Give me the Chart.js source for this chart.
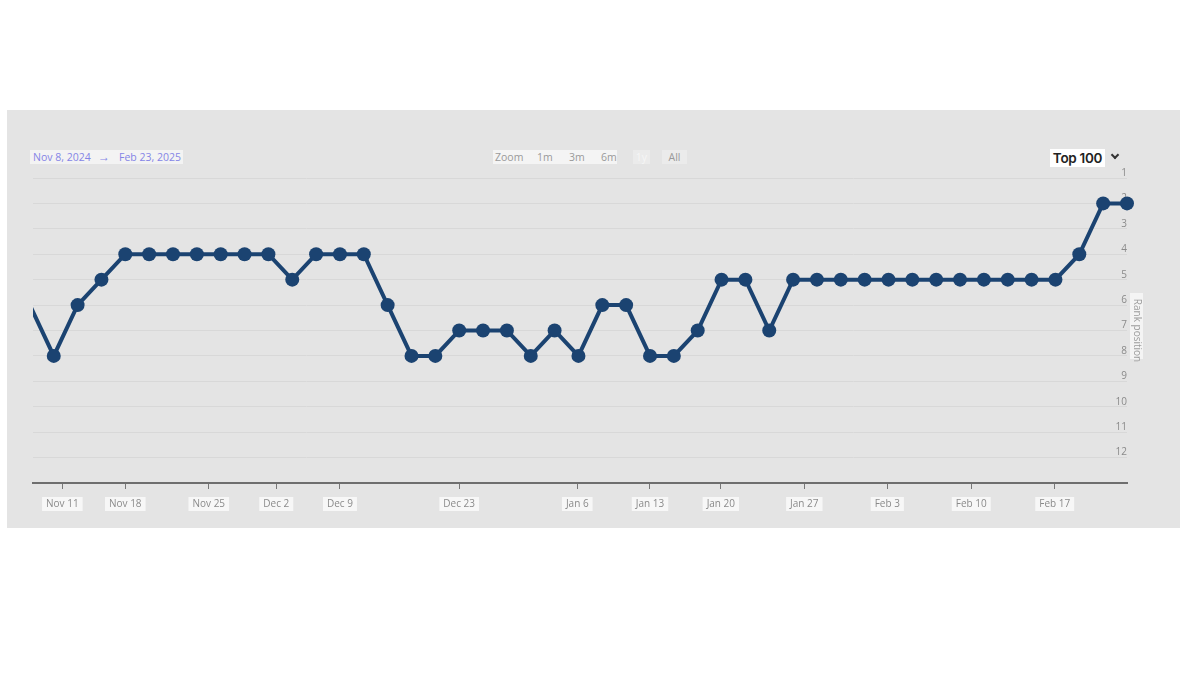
<!DOCTYPE html>
<html>
<head>
<meta charset="utf-8">
<script src="https://cdn.jsdelivr.net/npm/chart.js@4.4.1/dist/chart.umd.min.js"></script>
<style>
html,body{margin:0;padding:0;background:#fff;width:1200px;height:674px;overflow:hidden;font-family:"Open Sans",sans-serif;}
#panel{position:absolute;left:7px;top:110px;width:1173px;height:418px;background:#e4e4e4;}
#c{position:absolute;left:0;top:0;}
.t{position:absolute;white-space:nowrap;line-height:14px;height:14px;}
#range{left:30px;top:150px;width:153px;background:rgba(255,255,255,0.55);color:#8585e6;font-size:10.5px;}
#range span{position:absolute;top:0;}
.zb{top:150px;font-size:10.5px;color:#9a9a9a;}
#zstrip{position:absolute;left:493px;top:150px;width:124px;height:14px;background:rgba(255,255,255,0.6);}
#b1y{position:absolute;left:633px;top:150px;width:17px;height:14px;background:#ebebeb;color:#f6f6f6;font-size:10.5px;line-height:14px;text-align:center;}
#ball{position:absolute;left:662px;top:150px;width:25px;height:14px;background:#ebebeb;color:#999;font-size:10.5px;line-height:14px;text-align:center;}
#top{position:absolute;left:1050px;top:149px;width:55px;height:18px;background:#fff;color:#222;font-size:13.5px;font-weight:600;line-height:18px;text-align:center;font-family:Inter,"Open Sans",sans-serif;letter-spacing:-0.3px;}
#chev{position:absolute;left:1112px;top:152px;width:4px;height:4px;border-right:2px solid #333;border-bottom:2px solid #333;transform:rotate(45deg);}
#tbg{position:absolute;left:1130px;top:293px;width:13px;height:66px;background:rgba(255,255,255,0.6);}
</style>
</head>
<body>
<div id="panel"></div>
<div id="tbg"></div>
<div class="t" id="range"><span style="left:3px">Nov 8, 2024</span><span style="left:68px;font-size:12px">→</span><span style="left:89px">Feb 23, 2025</span></div>
<div id="zstrip"></div>
<div class="t zb" style="left:495px">Zoom</div>
<div class="t zb" style="left:537px">1m</div>
<div class="t zb" style="left:569px">3m</div>
<div class="t zb" style="left:601px">6m</div>
<div id="b1y">1y</div>
<div id="ball">All</div>
<div id="top">Top 100</div>
<div id="chev"></div>
<canvas id="c" width="1200" height="674"></canvas>
<script>
// Rank per data point (ordinal, equally spaced points)
const rankValues = [6, 8, 6, 5, 4, 4, 4, 4, 4, 4, 4, 5, 4, 4, 4, 6, 8, 8, 7, 7, 7, 8, 7, 8, 6, 6, 8, 8, 7, 5, 5, 7, 5, 5, 5, 5, 5, 5, 5, 5, 5, 5, 5, 5, 4, 2, 2];
// Date tick labels and their ordinal position among the points
const xTickLabels = ['Nov 11', 'Nov 18', 'Nov 25', 'Dec 2', 'Dec 9', 'Dec 23', 'Jan 6', 'Jan 13', 'Jan 20', 'Jan 27', 'Feb 3', 'Feb 10', 'Feb 17'];
const xTickPos = [1.36, 4, 7.5, 10.33, 13, 18, 22.95, 26, 28.97, 32.47, 35.95, 39.47, 42.97];
const yTickValues = [1, 2, 3, 4, 5, 6, 7, 8, 9, 10, 11, 12];
const xMin = 0.13, xMax = 46, yMin = 1, yMax = 13;

const navy = '#1b4371';
const points = rankValues.map((v, i) => ({ x: i, y: v }));

new Chart(document.getElementById('c'), {
  type: 'line',
  data: {
    datasets: [{
      data: points,
      borderColor: navy,
      backgroundColor: navy,
      borderWidth: 4,
      pointBackgroundColor: navy,
      pointBorderColor: navy,
      pointBorderWidth: 0,
      pointRadius: ctx => (ctx.raw && ctx.raw.x < xMin) ? 0 : 7,
      pointHoverRadius: ctx => (ctx.raw && ctx.raw.x < xMin) ? 0 : 7,
      tension: 0,
      clip: { left: 0, top: false, right: false, bottom: false }
    }]
  },
  options: {
    responsive: false,
    animation: false,
    devicePixelRatio: 1,
    layout: { padding: { left: 33, right: 55, top: 178, bottom: 155 } },
    plugins: { legend: { display: false }, tooltip: { enabled: false } },
    scales: {
      x: {
        type: 'linear',
        min: xMin,
        max: xMax,
        afterBuildTicks: s => { s.ticks = xTickPos.map(v => ({ value: v })); },
        grid: { display: true, drawOnChartArea: false, drawTicks: true, tickLength: 6, color: '#777', lineWidth: 1 },
        border: { display: true, color: '#6e6e6e', width: 2 },
        ticks: {
          callback: (v, i) => xTickLabels[i],
          autoSkip: false, maxRotation: 0, minRotation: 0,
          padding: 9, color: '#8a8a8a',
          font: { family: '"Open Sans", sans-serif', size: 10 },
          showLabelBackdrop: true,
          backdropColor: 'rgba(255,255,255,0.7)',
          backdropPadding: { x: 4, y: 1 }
        }
      },
      y: {
        type: 'linear',
        position: 'right',
        reverse: true,
        min: yMin,
        max: yMax,
        afterBuildTicks: s => { s.ticks = yTickValues.map(v => ({ value: v })); },
        grid: { color: '#d8d8d8', lineWidth: 1, drawTicks: false },
        border: { display: false },
        ticks: {
          mirror: true, padding: 0, labelOffset: -5,
          color: '#8a8a8a',
          font: { family: '"Open Sans", sans-serif', size: 10 },
          callback: v => String(v)
        },
        title: {
          display: true, text: 'Rank position', color: '#9c9c9c',
          font: { family: '"Open Sans", sans-serif', size: 10 },
          padding: { top: 2, bottom: 4 }
        }
      }
    }
  }
});
</script>
</body>
</html>
